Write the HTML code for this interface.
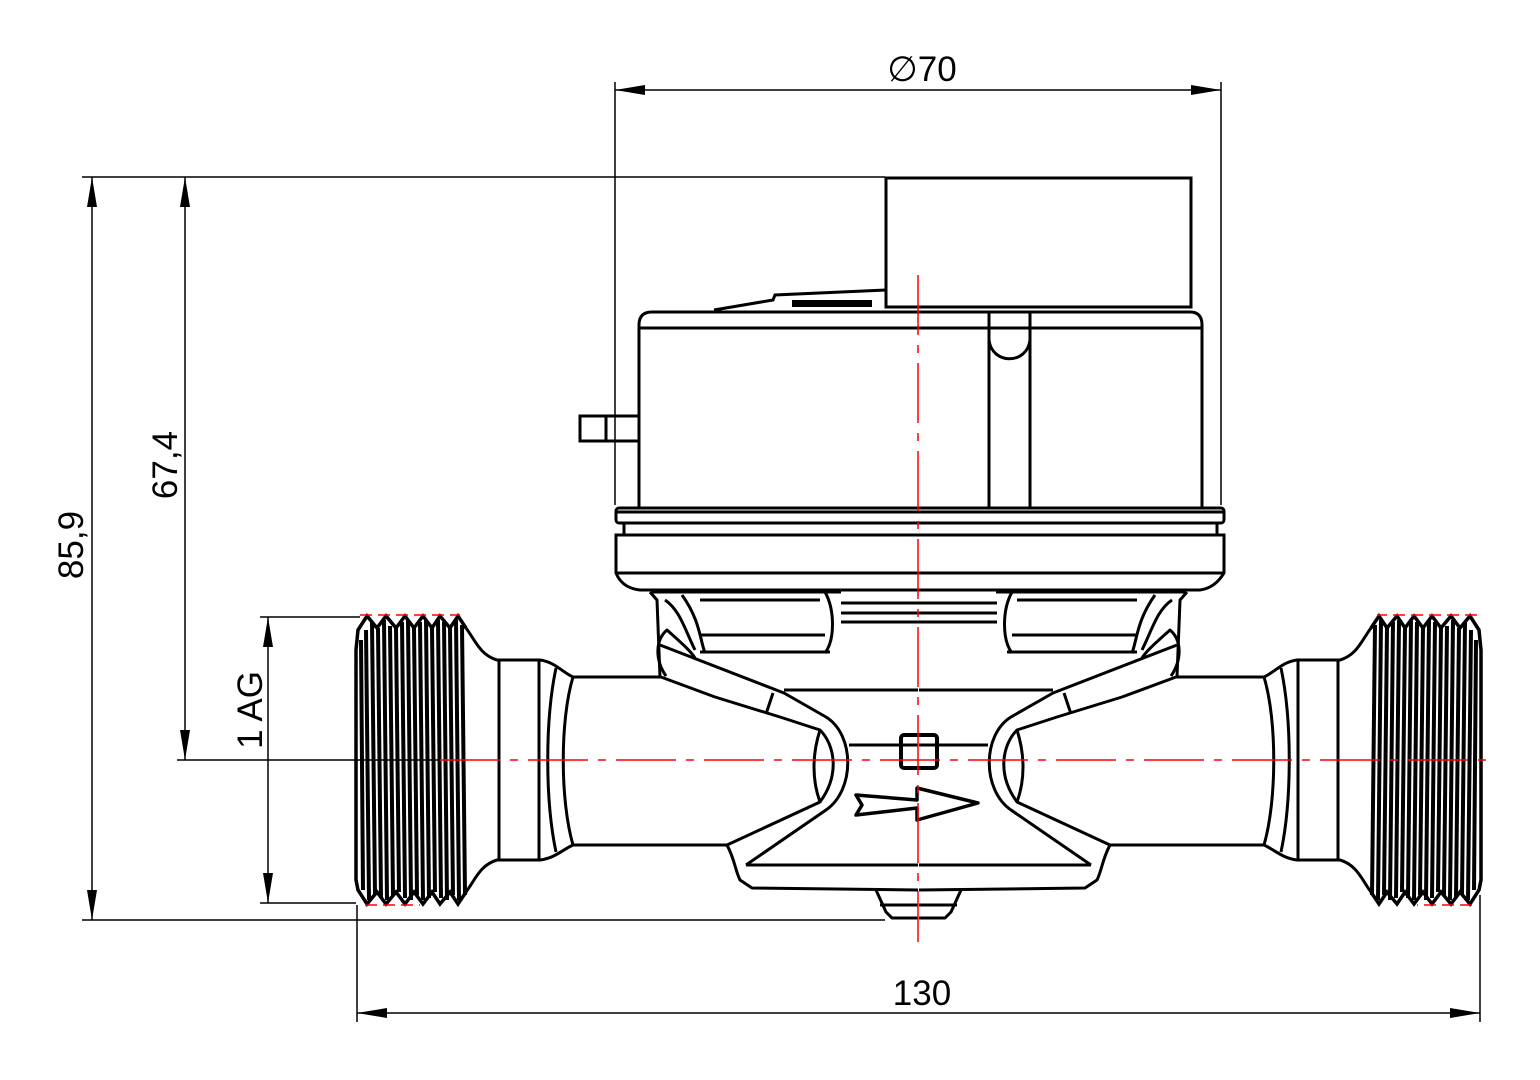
<!DOCTYPE html>
<html><head><style>html,body{margin:0;padding:0;background:#fff}svg{display:block}</style></head><body>
<svg width="1540" height="1080" viewBox="0 0 1540 1080" xmlns="http://www.w3.org/2000/svg">
<defs>
<marker id="ar" viewBox="0 0 30 10" refX="30" refY="5" markerWidth="30" markerHeight="10" markerUnits="userSpaceOnUse" orient="auto-start-reverse"><path d="M0,0 L30,5 L0,10 Z" fill="#000"/></marker>
<g id="threads" stroke="#000" fill="none">
  <path stroke-width="3.5" d="M466,628 L458,616 L450,628 L440,616 L432,628 L423,616 L414,628 L405,616 L396,628 L386,616 L377,628 L367,616 L358,630 L356,650 L356,880 L358,890 L367,904 L377,892 L386,904 L396,892 L405,904 L414,892 L423,904 L432,892 L440,904 L450,892 L458,904 L466,892"/>
  <g stroke-width="4">
    <path d="M361,640 L363,890"/><path d="M366,630 L369,900"/><path d="M372,622 L375,895"/><path d="M378,628 L381,898"/><path d="M384,620 L387,900"/><path d="M390,626 L393,895"/><path d="M396,628 L399,892"/><path d="M402,622 L405,898"/><path d="M408,620 L411,900"/><path d="M414,628 L417,895"/><path d="M420,622 L423,900"/><path d="M426,620 L429,898"/><path d="M432,628 L435,892"/><path d="M438,620 L441,898"/><path d="M444,622 L447,900"/><path d="M450,628 L453,895"/><path d="M456,620 L459,900"/><path d="M462,625 L465,895"/>
  </g>
  <line x1="360" y1="615" x2="460" y2="615" stroke="red" stroke-width="1.5" stroke-dasharray="12 6"/>
  <line x1="365" y1="905" x2="420" y2="905" stroke="red" stroke-width="1.5" stroke-dasharray="12 6"/>
</g>
<g id="half" stroke="#000" stroke-width="3" fill="none" stroke-linejoin="round">
  <path d="M466,628 C475,640 480,655 497,660 L540,660 C555,662 562,672 573,677 L661,677"/>
  <path d="M466,892 C475,880 480,865 497,860 L540,860 C555,858 562,850 573,845 L727,845"/>
  <line x1="499" y1="660" x2="499" y2="860"/><line x1="539" y1="660" x2="539" y2="860"/>
  <path d="M573,677 C560,720 560,800 573,845"/><path d="M556,668 C545,720 545,800 556,852"/>
  <path d="M661,677 L715,697 L780,717 L820,730 C835,745 840,775 820,802 L727,845"/>
  <path d="M660,645 L784,693 L826,717 C855,735 855,790 826,810 L746,865"/>
  <path d="M820,730 C812,755 812,780 820,802"/>
  <line x1="773" y1="693" x2="766" y2="714"/>
  <path d="M727,845 C735,860 735,870 740,880 L752,888 L918,890"/>
  <line x1="746" y1="865" x2="918" y2="865"/>
  <line x1="784" y1="690" x2="918" y2="690"/>
  <line x1="849" y1="745" x2="918" y2="745"/>
  <path d="M876,890 L886,912 L892,918 L918,918"/>
  <line x1="880" y1="905" x2="918" y2="905"/>
  <path d="M660,677 L657,600 L650,592"/>
  <path d="M666,676 C655,660 655,640 667,630 C678,640 690,650 695,658"/>
  <path d="M665,600 C680,610 685,630 695,650"/>
  <path d="M652,592 L841,592 M700,600 L820,600 M700,635 L825,635 M700,652 L830,652"/>
  <path d="M825,592 C835,610 835,640 825,653"/><path d="M682,595 C700,620 700,640 705,653"/>
</g>
</defs>

<g stroke="#000" stroke-width="1.5" fill="none">
  <line x1="615" y1="82" x2="615" y2="505"/><line x1="1221" y1="82" x2="1221" y2="505"/>
  <line x1="615" y1="90" x2="1221" y2="90" marker-start="url(#ar)" marker-end="url(#ar)"/>
  <line x1="82" y1="177" x2="885" y2="177"/>
  <line x1="82" y1="920" x2="885" y2="920"/>
  <line x1="177" y1="760" x2="440" y2="760"/>
  <line x1="260" y1="617" x2="360" y2="617"/>
  <line x1="260" y1="903" x2="356" y2="903"/>
  <line x1="92" y1="177" x2="92" y2="920" marker-start="url(#ar)" marker-end="url(#ar)"/>
  <line x1="185" y1="177" x2="185" y2="760" marker-start="url(#ar)" marker-end="url(#ar)"/>
  <line x1="268" y1="617" x2="268" y2="903" marker-start="url(#ar)" marker-end="url(#ar)"/>
  <line x1="357" y1="905" x2="357" y2="1022"/><line x1="1480" y1="895" x2="1480" y2="1022"/>
  <line x1="357" y1="1013" x2="1480" y2="1013" marker-start="url(#ar)" marker-end="url(#ar)"/>
</g>
<g font-family="Liberation Sans, sans-serif" font-size="35" fill="#000">
  <text x="922" y="81" text-anchor="middle">∅70</text>
  <text x="922" y="1005" text-anchor="middle">130</text>
  <text transform="translate(83,545) rotate(-90)" text-anchor="middle">85,9</text>
  <text transform="translate(177,465) rotate(-90)" text-anchor="middle">67,4</text>
  <text transform="translate(262,710) rotate(-90)" text-anchor="middle">1 AG</text>
</g>

<g stroke="#000" stroke-width="3" fill="none">
  <rect x="886" y="178" width="305" height="129"/>
  <path d="M639,508 L639,325 Q639,312 652,312 L1190,312 Q1202,312 1202,325 L1202,508"/>
  <line x1="639" y1="328" x2="1202" y2="328"/>
  <path d="M989,508 L989,312 M1030,508 L1030,312"/>
  <path d="M989,340 C992,365 1027,365 1030,340"/>
  <path d="M714,310 L773,300 L775,295 L886,290"/>
  <rect x="580" y="416" width="59" height="25"/><line x1="606" y1="416" x2="606" y2="441"/>
  <rect x="616" y="508" width="608" height="15" rx="3"/>
  <line x1="616" y1="512" x2="1224" y2="512"/>
  <path d="M624,523 L624,535 M1217,523 L1217,535"/>
  <path d="M616,535 L1224,535 L1224,573 Q1215,588 1200,590 L640,590 Q622,588 616,573 Z"/>
  <line x1="616" y1="573" x2="1224" y2="573"/>
  <line x1="841" y1="603" x2="997" y2="603"/><line x1="841" y1="613" x2="997" y2="613"/><line x1="841" y1="622" x2="997" y2="622"/>
</g>
<g fill="#000"><rect x="792" y="300" width="80" height="7"/></g>

<use href="#threads"/>
<use href="#half"/>
<g transform="translate(1837,0) scale(-1,1)"><use href="#threads"/><use href="#half"/></g>

<rect x="901" y="735" width="36" height="33" rx="3" stroke="#000" stroke-width="4" fill="none"/>
<path d="M856,795 L917,800 L917,788 L978,803 L917,820 L917,808 L856,815 L862,805 Z" stroke="#000" stroke-width="3.5" fill="none" stroke-linejoin="round"/>

<g stroke="red" stroke-width="1.5" fill="none">
  <line x1="440" y1="760" x2="1492" y2="760" stroke-dasharray="60 10 8 10"/>
  <line x1="918" y1="275" x2="918" y2="942" stroke-dasharray="60 10 8 10"/>
</g>
</svg>
</body></html>
